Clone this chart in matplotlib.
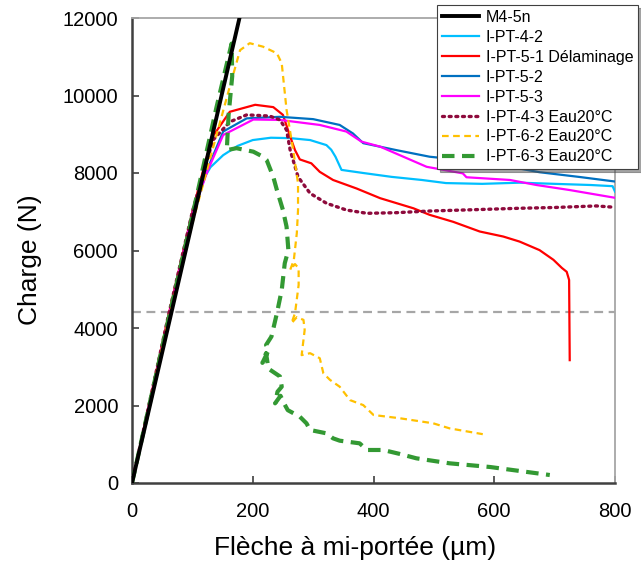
#!/usr/bin/env python3
import matplotlib as mpl
import matplotlib.pyplot as plt

# --- data (fleche in um, charge in N) ---
m4_x = [0, 178]
m4_y = [0, 12000]

pt42_x = [0, 50, 100, 113, 130, 151, 175, 200, 230, 262, 295, 322, 330, 337, 347, 383, 430, 480, 520, 580, 642, 700, 760, 796, 800]
pt42_y = [0, 3500, 7000, 7700, 8150, 8460, 8700, 8850, 8910, 8900, 8850, 8720, 8600, 8420, 8080, 8000, 7900, 7820, 7740, 7720, 7750, 7720, 7690, 7660, 7520]

pt51_x = [0, 60, 100, 120, 134, 162, 204, 234, 250, 262, 270, 278, 297, 311, 333, 372, 411, 466, 493, 532, 576, 615, 642, 675, 698, 712, 720, 724, 725]
pt51_y = [0, 4300, 7000, 8200, 8950, 9580, 9760, 9700, 9500, 8940, 8590, 8350, 8250, 8030, 7820, 7600, 7350, 7090, 6920, 6740, 6490, 6360, 6230, 6010, 5760, 5550, 5450, 5240, 3170]

pt52_x = [0, 60, 100, 125, 151, 190, 245, 300, 344, 366, 383, 438, 493, 550, 600, 640, 675, 740, 800]
pt52_y = [0, 4200, 6900, 8100, 9070, 9410, 9450, 9390, 9240, 9020, 8770, 8590, 8420, 8330, 8230, 8120, 8020, 7900, 7780]

pt53_x = [0, 60, 100, 125, 151, 201, 245, 311, 355, 380, 411, 488, 548, 554, 626, 670, 725, 800]
pt53_y = [0, 4250, 6950, 8050, 8980, 9380, 9370, 9240, 9070, 8810, 8680, 8160, 7990, 7890, 7820, 7690, 7560, 7360]

pt43_x = [0, 60, 100, 134, 162, 190, 228, 245, 256, 262, 275, 295, 322, 355, 389, 438, 493, 560, 642, 700, 769, 800]
pt43_y = [0, 4300, 7000, 8850, 9320, 9500, 9470, 9370, 9110, 8590, 7900, 7475, 7220, 7045, 6960, 6976, 7019, 7050, 7090, 7110, 7150, 7115]

pt62_x = [0, 60, 100, 162, 179, 195, 217, 240, 248, 256, 267, 275, 275, 273, 268, 262, 270, 276, 276, 270, 264, 273, 284, 286, 281, 295, 311, 317, 328, 344, 361, 383, 400, 444, 499, 526, 581]
pt62_y = [0, 4200, 6700, 10230, 11170, 11350, 11260, 11090, 10830, 9630, 8590, 7730, 7045, 6450, 5750, 5500, 5650, 5540, 5110, 4380, 4120, 4280, 4210, 3950, 3300, 3350, 3220, 2830, 2660, 2485, 2140, 2010, 1755, 1670, 1540, 1410, 1260]

pt63_x = [0, 60, 100, 140, 165, 166, 160, 157, 173, 201, 217, 223, 234, 240, 250, 256, 259, 253, 248, 240, 231, 222, 227, 216, 222, 226, 245, 248, 241, 237, 246, 252, 258, 278, 289, 295, 322, 333, 344, 377, 389, 416, 444, 471, 526, 593, 692]
pt63_y = [0, 4200, 6900, 9700, 11340, 10500, 9500, 8590, 8640, 8550, 8420, 8335, 7900, 7560, 7045, 6614, 6013, 5670, 4980, 4380, 3780, 3560, 3450, 3100, 3350, 2950, 2750, 2485, 2356, 2056, 2250, 2050, 1880, 1711, 1540, 1368, 1282, 1153, 1092, 1024, 852, 852, 748, 637, 508, 413, 206]

ref_level = 4420

x_ticks = [0, 200, 400, 600, 800]
y_ticks = [0, 2000, 4000, 6000, 8000, 10000, 12000]

COLORS = {
    "m4": "#000000",
    "pt42": "#00BFFF",
    "pt51": "#FF0000",
    "pt52": "#0070C0",
    "pt53": "#FF00FF",
    "pt43": "#8E0A3C",
    "pt62": "#FFC000",
    "pt63": "#339933",
    "ref": "#A6A6A6",
    "axis": "#404040",
    "frame": "#A6A6A6",
}

mpl.rcParams.update({
    "font.family": ["Liberation Sans", "DejaVu Sans"],
    "font.size": 14.5,
})

fig = plt.figure(figsize=(6.41, 5.69), dpi=100, facecolor="white")
ax = fig.add_axes([132 / 641, 86 / 569, 483 / 641, 465 / 569])

ax.axhline(ref_level, color=COLORS["ref"], lw=1.6, ls=(0, (4, 2.5)), zorder=1)

ax.plot(m4_x, m4_y, color=COLORS["m4"], lw=2.8, label="M4-5n", zorder=5)
ax.plot(pt42_x, pt42_y, color=COLORS["pt42"], lw=1.6, label="I-PT-4-2", zorder=3)
ax.plot(pt51_x, pt51_y, color=COLORS["pt51"], lw=1.6, label="I-PT-5-1 Délaminage", zorder=3)
ax.plot(pt52_x, pt52_y, color=COLORS["pt52"], lw=1.6, label="I-PT-5-2", zorder=3)
ax.plot(pt53_x, pt53_y, color=COLORS["pt53"], lw=1.6, label="I-PT-5-3", zorder=3)
ax.plot(pt43_x, pt43_y, color=COLORS["pt43"], lw=2.4, ls=(0, (0.6, 1.4)),
        dash_capstyle="round", label="I-PT-4-3 Eau20°C", zorder=4)
ax.plot(pt62_x, pt62_y, color=COLORS["pt62"], lw=1.6, ls=(0, (3, 2)), label="I-PT-6-2 Eau20°C", zorder=4)
ax.plot(pt63_x, pt63_y, color=COLORS["pt63"], lw=3.0, ls=(0, (3, 1.8)), label="I-PT-6-3 Eau20°C", zorder=4)

ax.set_xlim(0, 800)
ax.set_ylim(0, 12000)
ax.set_xticks(x_ticks)
ax.set_yticks(y_ticks)
ax.tick_params(direction="in", length=5, width=1.2, color=COLORS["axis"], labelsize=14.5)
ax.tick_params(axis="x", pad=14)
ax.tick_params(axis="y", pad=10)

for side in ("left", "bottom"):
    ax.spines[side].set_color(COLORS["axis"])
    ax.spines[side].set_linewidth(1.8)
for side in ("top", "right"):
    ax.spines[side].set_color(COLORS["frame"])
    ax.spines[side].set_linewidth(1.3)

ax.set_xlabel("Flèche à mi-portée (µm)", fontsize=19)
ax.set_ylabel("Charge (N)", fontsize=19)
ax.xaxis.set_label_coords(0.461, -0.114)
ax.yaxis.set_label_coords(-0.186, 0.48)

leg = ax.legend(loc="upper right", bbox_to_anchor=(1.048, 1.028), borderaxespad=0,
                fontsize=11.5, frameon=True, fancybox=False, shadow=True,
                edgecolor="#404040", framealpha=1, labelspacing=0.31,
                handlelength=2.3, handletextpad=0.45, borderpad=0.3)
leg.get_frame().set_linewidth(0.8)
leg.set_zorder(10)

fig.savefig("out.png", dpi=100, facecolor="white")
